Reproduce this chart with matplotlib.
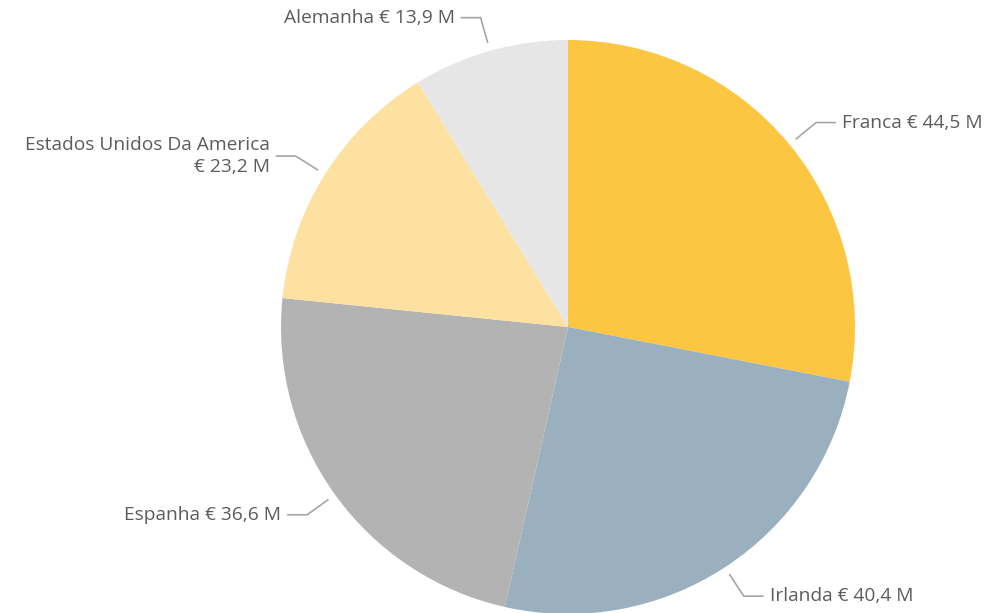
import numpy as np
import matplotlib
matplotlib.use("Agg")
import matplotlib.pyplot as plt

countries = ["Franca", "Irlanda", "Espanha", "Estados Unidos Da America", "Alemanha"]
values = [44.5, 40.4, 36.6, 23.2, 13.9]
value_labels = ["€ 44,5 M", "€ 40,4 M", "€ 36,6 M", "€ 23,2 M", "€ 13,9 M"]
colors = ["#FCC643", "#9AB0BE", "#B3B3B3", "#FDE1A0", "#E6E6E6"]
label_text = [
    "Franca € 44,5 M",
    "Irlanda € 40,4 M",
    "Espanha € 36,6 M",
    "Estados Unidos Da America\n€ 23,2 M",
    "Alemanha € 13,9 M",
]

W, H = 1005, 613
cx, cy, R = 568, 327, 287

fig = plt.figure(figsize=(W / 100, H / 100), dpi=100)
ax = fig.add_axes([0, 0, 1, 1])

wedges, _ = ax.pie(values, colors=colors, startangle=90, counterclock=False,
                   radius=1.0, center=(0, 0), frame=True,
                   wedgeprops=dict(linewidth=0))
ax.set_xlim(-cx / R, (W - cx) / R)
ax.set_ylim((cy - H) / R, cy / R)
ax.set_aspect("equal")
ax.axis("off")

line_col = "#A6A6A6"
text_col = "#5C5C5C"
r_start, r_elbow, hlen, gap = 1.028, 1.12, 20 / R, 6 / R

for w, txt in zip(wedges, label_text):
    mid = np.deg2rad((w.theta1 + w.theta2) / 2)
    x0, y0 = r_start * np.cos(mid), r_start * np.sin(mid)
    x1, y1 = r_elbow * np.cos(mid), r_elbow * np.sin(mid)
    side = 1 if x1 >= 0 else -1
    x2 = x1 + side * hlen
    ax.plot([x0, x1, x2], [y0, y1, y1], color=line_col, lw=1.2,
            solid_capstyle="butt", clip_on=False)
    ax.text(x2 + side * gap, y1, txt, ha="left" if side > 0 else "right",
            va="center", multialignment="right", fontsize=13.8,
            family=["Open Sans", "DejaVu Sans"], color=text_col,
            linespacing=1.3)

fig.savefig("out.png", dpi=100, facecolor="white")
